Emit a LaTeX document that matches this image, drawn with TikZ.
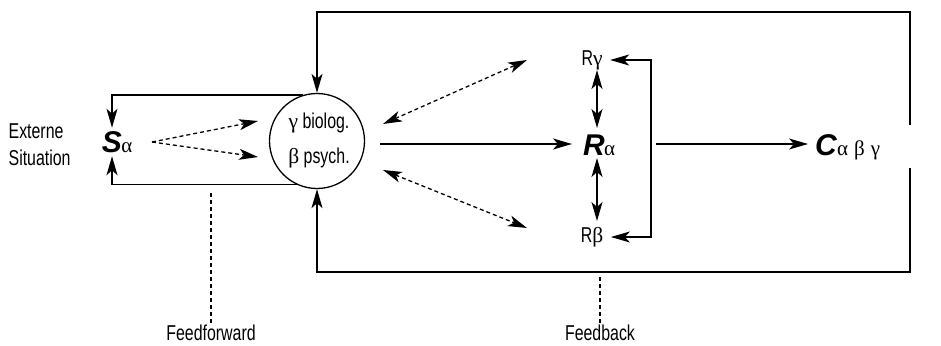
\documentclass[tikz,border=0pt]{standalone}
\usepackage{fontspec}
\setmainfont{Liberation Sans}[FakeStretch=0.74]
\newfontfamily\grk{Liberation Serif}
\newfontfamily\bigf{Liberation Sans}
\usetikzlibrary{arrows.meta}
\begin{document}
\begin{tikzpicture}[x=1pt,y=-1pt,line width=1.3pt,
  >={Stealth[length=19pt,width=11pt,inset=5pt]},
  lbl/.style={font=\fontsize{21.5}{24}\selectfont,inner sep=0pt},
  bigl/.style={font=\bigf\fontsize{30}{32}\selectfont\bfseries\itshape,inner sep=0pt},
  grl/.style={font=\grk\fontsize{21}{22}\selectfont,inner sep=0pt},
  dsh/.style={dash pattern=on 4pt off 3pt}]
\useasboundingbox (0,0) rectangle (941,345);
% left text
\node[lbl,align=left,anchor=west] (ext) at (8,145) {Externe\\[3pt]Situation};
% S alpha
\node[bigl] (S) at (112,142) {S};
\node[grl,anchor=base west] (Sa) at ([xshift=-2pt]S.base east) {α};
% psyche circle
\node[circle,draw,minimum size=95pt,inner sep=0pt] (P) at (317,141) {};
\node[lbl] (pg) at (319,123) {{\grk γ} biolog.};
\node[lbl] (pb) at (319,158) {{\grk β} psych.};
% R nodes
\node[bigl] (R) at (594,145) {R};
\node[grl,anchor=base west] (Ra) at ([xshift=-2pt]R.base east) {α};
\node[lbl] (Rg) at (592,60) {R{\grk γ}};
\node[lbl] (Rb) at (592,237) {R{\grk β}};
% C node
\node[bigl] (C) at (826,145) {C};
\node[grl,anchor=base west] (Cg) at ([xshift=-1pt]C.base east) {α\hspace{6pt}β\hspace{6pt}γ};
% bottom labels
\node[lbl] (ff) at (211,333) {Feedforward};
\node[lbl] (fb) at (600,333) {Feedback};
% coordinates
\coordinate (sa1) at (258,121);
\coordinate (sa2) at (258,157);
\coordinate (d1a) at (383,124);
\coordinate (d1b) at (527,60);
\coordinate (d2a) at (383,170);
\coordinate (d2b) at (527,228);
\coordinate (m1) at (380,144);
\coordinate (m2) at (572,144);
\coordinate (c1) at (656,144);
\coordinate (c2) at (808,144);
\coordinate (u1) at (597,70);
\coordinate (u2) at (597,128);
\coordinate (l1) at (597,158);
\coordinate (l2) at (597,221);
\coordinate (br) at (651,150);
\coordinate (tl) at (317,12);
\coordinate (tr) at (910,125);
\coordinate (bl) at (317,272);
\coordinate (brt) at (910,168);
\coordinate (ffs) at (211,193);
\coordinate (fbs) at (600,277);
\coordinate (sst) at (152,142);
% left loop
\draw[->] (P.107) -| ([yshift=3pt]S.north);
\draw[->] (P.245) -| ([yshift=-3pt]S.south);
% S to psyche dashed
\draw[->,dsh] (sst) -- (sa1);
\draw[->,dsh] (sst) -- (sa2);
% main arrow
\draw[->] (m1) -- (m2);
% dashed double arrows
\draw[<->,dsh] (d1a) -- (d1b);
\draw[<->,dsh] (d2a) -- (d2b);
% vertical double arrows
\draw[<->] (u1) -- (u2);
\draw[<->] (l1) -- (l2);
% bracket
\draw[->] (br) |- ([xshift=7pt]Rg.east);
\draw[->] (br) |- ([xshift=7pt]Rb.east);
% R to C
\draw[->] (c1) -- (c2);
% feedback loops
\draw[->] (tr) |- (tl) -- (P.north);
\draw[->] (brt) |- (bl) -- (P.south);
% dashed labels
\draw[dsh] (ffs) -- (ff.north);
\draw[dsh] (fbs) -- (fb.north);
\end{tikzpicture}
\end{document}
